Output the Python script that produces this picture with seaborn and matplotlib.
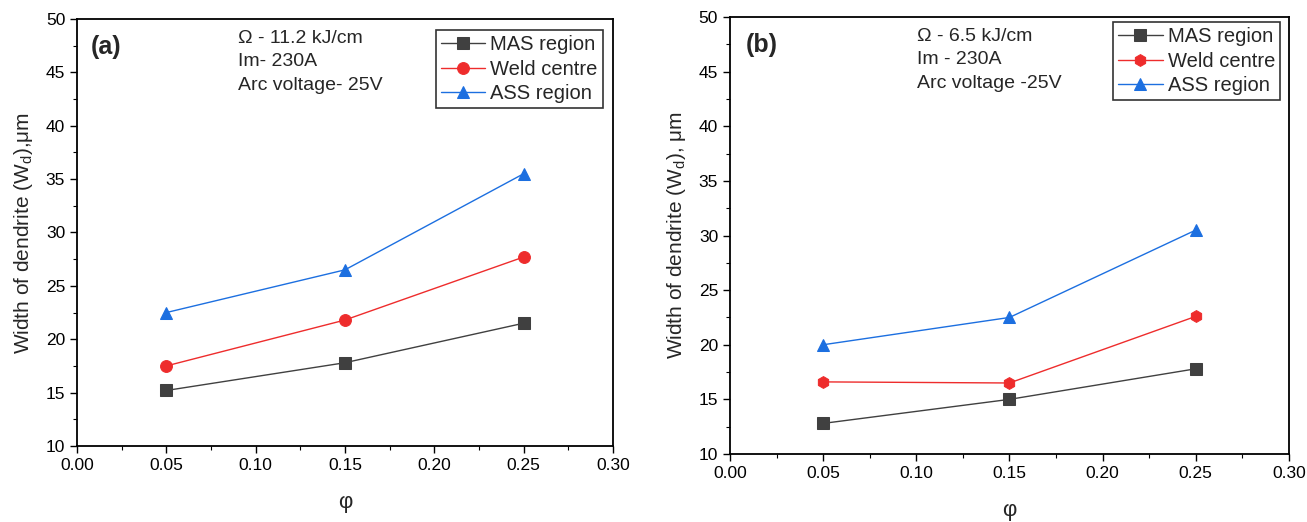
import matplotlib
matplotlib.use("Agg")
import matplotlib.pyplot as plt
import seaborn as sns
import pandas as pd
from matplotlib.ticker import MultipleLocator, FormatStrFormatter

sns.set_theme(style="white")
plt.rcParams['font.family'] = ['Liberation Sans Narrow', 'Liberation Sans', 'DejaVu Sans']

phi = [0.05, 0.15, 0.25]
series_names = ["MAS region", "Weld centre", "ASS region"]

a_mas = [15.2, 17.8, 21.5]
a_weld = [17.5, 21.8, 27.7]
a_ass = [22.5, 26.5, 35.5]

b_mas = [12.8, 15.0, 17.8]
b_weld = [16.6, 16.5, 22.6]
b_ass = [20.0, 22.5, 30.5]

colors = ["#404040", "#ee2c2c", "#1c6fe0"]
markers_a = ["s", "o", "^"]
markers_b = ["s", "h", "^"]

fig = plt.figure(figsize=(13.07, 5.22), dpi=100)
ax_a = fig.add_axes([0.0589, 0.1456, 0.410, 0.818])
ax_b = fig.add_axes([0.5585, 0.1303, 0.4277, 0.837])


def draw(ax, vals, markers, label_tag, tagx, info, ylabel, legloc):
    for name, v, c, m in zip(series_names, vals, colors, markers):
        df = pd.DataFrame({"phi": phi, "w": v})
        sns.lineplot(data=df, x="phi", y="w", ax=ax, color=c, marker=m,
                     markersize=8.5, markeredgecolor=c, linewidth=1.0, label=name)
    ax.set_xlim(0, 0.30)
    ax.set_ylim(10, 50)
    ax.xaxis.set_major_locator(MultipleLocator(0.05))
    ax.xaxis.set_minor_locator(MultipleLocator(0.025))
    ax.yaxis.set_major_locator(MultipleLocator(5))
    ax.yaxis.set_minor_locator(MultipleLocator(2.5))
    ax.xaxis.set_major_formatter(FormatStrFormatter('%.2f'))
    ax.tick_params(axis='both', which='major', direction='out', length=5, width=1,
                   labelsize=12.5, bottom=True, left=True, top=False, right=False, colors='black')
    ax.tick_params(axis='both', which='minor', direction='out', length=3, width=0.8,
                   bottom=True, left=True, top=False, right=False, colors='black')
    for s in ax.spines.values():
        s.set_color('black')
        s.set_linewidth(1.3)
    ax.set_xlabel("φ", fontsize=16, labelpad=14)
    ax.set_ylabel(ylabel, fontsize=15, labelpad=8)
    ax.text(tagx, 0.935, label_tag, transform=ax.transAxes, fontsize=18,
            fontweight='bold', va='center', ha='left', family='Liberation Sans')
    ax.text(info[0], info[1], info[2], transform=ax.transAxes, fontsize=14,
            va='top', ha='left', linespacing=1.5, family='Liberation Sans')
    leg = ax.legend(loc='upper right', bbox_to_anchor=legloc, fontsize=14.5,
                    frameon=True, fancybox=False, handlelength=2.2,
                    borderpad=0.25, labelspacing=0.28, handletextpad=0.25,
                    borderaxespad=0)
    leg.get_frame().set_edgecolor('black')
    leg.get_frame().set_linewidth(1.2)
    for t in leg.get_texts():
        t.set_family('Liberation Sans')


draw(ax_a, [a_mas, a_weld, a_ass], markers_a, "(a)", 0.026,
     (0.301, 0.975, "Ω - 11.2 kJ/cm\nIm- 230A\nArc voltage- 25V"),
     "Width of dendrite (W$_\\mathregular{d}$),μm", (0.981, 0.974))
draw(ax_b, [b_mas, b_weld, b_ass], markers_b, "(b)", 0.029,
     (0.3345, 0.976, "Ω - 6.5 kJ/cm\nIm - 230A\nArc voltage -25V"),
     "Width of dendrite (W$_\\mathregular{d}$), μm", (0.984, 0.989))

fig.savefig("out.png", dpi=100)
